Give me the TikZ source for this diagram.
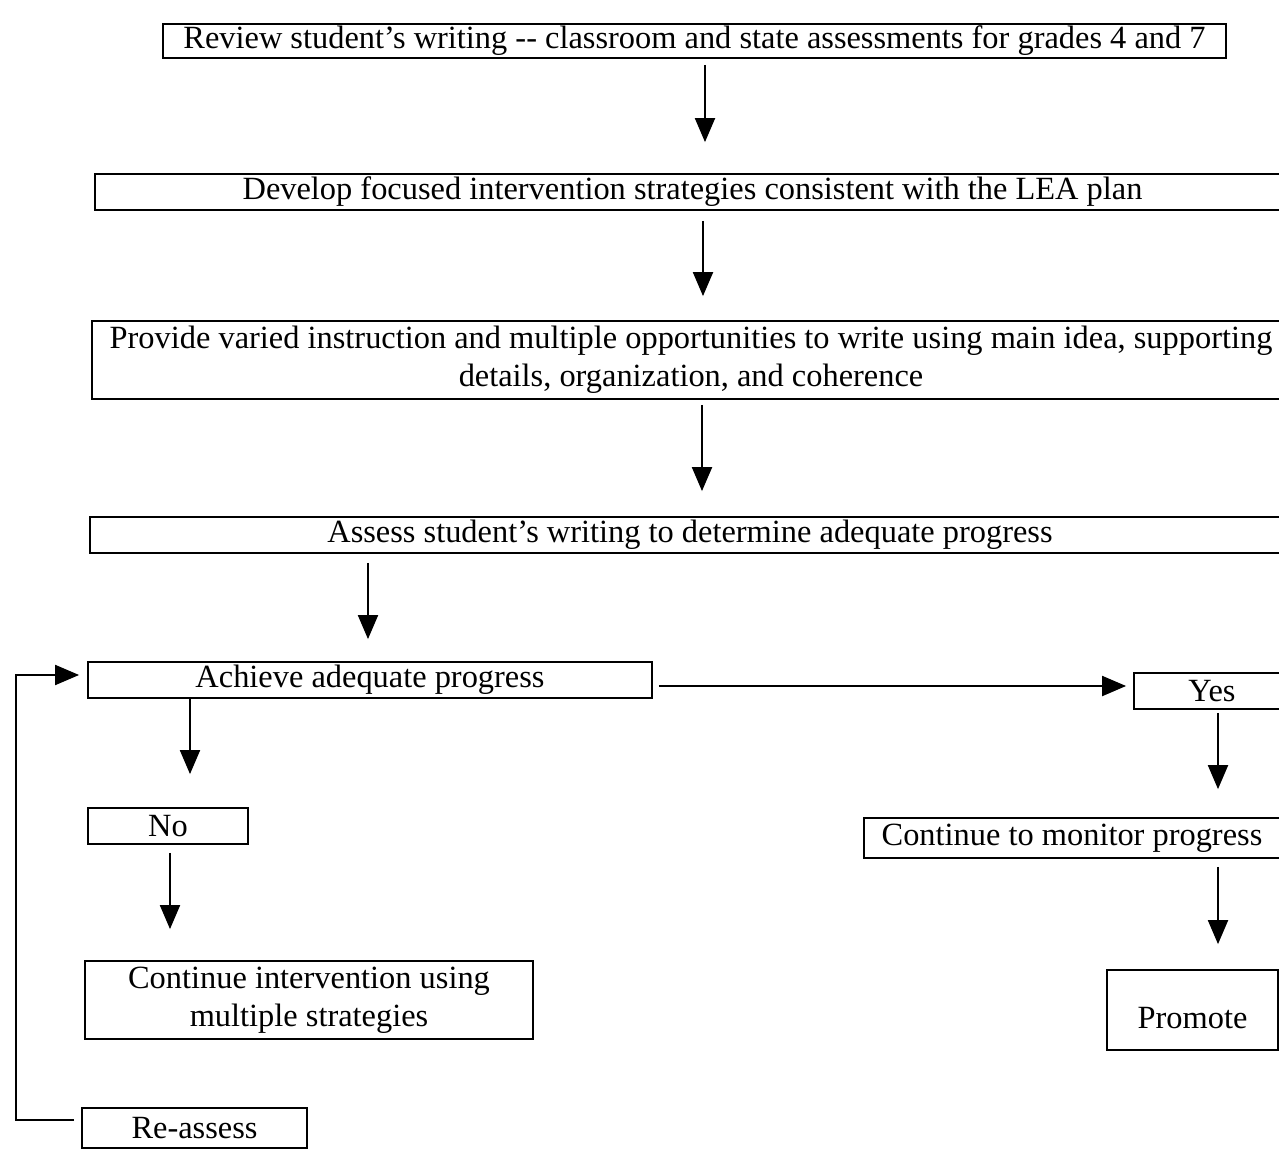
\documentclass[tikz,border=0pt]{standalone}
\usepackage{fontspec}
\setmainfont{Liberation Serif}
\usetikzlibrary{arrows.meta}
\begin{document}
\begin{tikzpicture}[x=1pt,y=-1pt,
  box/.style={draw, line width=1.8pt, inner sep=0pt, align=center,
    font=\fontsize{32.4}{38}\selectfont},
  arr/.style={line width=2pt, -{Triangle[length=24pt,width=20pt]}}]
\useasboundingbox[fill=white] (0,0) rectangle (1279,1148);
\node[box, minimum width=1063pt, minimum height=34pt] (review) at (694.5,41) {Review student's writing -{}- classroom and state assessments for grades 4 and 7};
\node[box, minimum width=1195pt, minimum height=36pt] (develop) at (692.5,192) {Develop focused intervention strategies consistent with the LEA plan};
\node[box, minimum width=1198pt, minimum height=78pt] (provide) at (691,360) {Provide varied instruction and multiple opportunities to write using main idea, supporting\\details, organization, and coherence};
\node[box, minimum width=1200pt, minimum height=36pt] (assess) at (690,535) {Assess student's writing to determine adequate progress};
\node[box, minimum width=564pt, minimum height=36pt] (achieve) at (370,680) {Achieve adequate progress};
\node[box, minimum width=156pt, minimum height=36pt] (yes) at (1212,691) {Yes};
\node[box, minimum width=416pt, minimum height=40pt] (monitor) at (1072,838) {Continue to monitor progress};
\node[box, minimum width=171pt, minimum height=80pt] (promote) at (1192.5,1010) {\mbox{}\\Promote};
\node[box, minimum width=160pt, minimum height=36pt] (no) at (168,826) {No};
\node[box, minimum width=448pt, minimum height=78pt] (interv) at (309,1000) {Continue intervention using\\multiple strategies};
\node[box, minimum width=225pt, minimum height=40pt] (reassess) at (194.5,1128) {Re-assess};
\coordinate (loopl) at (16,1120);
\draw[arr, shorten <=6pt, shorten >=31pt] ([xshift=10.5pt]review.south) -- ([xshift=12.5pt]develop.north);
\draw[arr, shorten <=10pt, shorten >=24pt] ([xshift=10.5pt]develop.south) -- ([xshift=12pt]provide.north);
\draw[arr, shorten <=5pt, shorten >=25pt] ([xshift=11pt]provide.south) -- ([xshift=12pt]assess.north);
\draw[arr, shorten <=9pt, shorten >=22pt] ([xshift=-322pt]assess.south) -- ([xshift=-2pt]achieve.north);
\draw[arr, shorten <=6pt, shorten >=7pt] ([yshift=-6pt]achieve.east) -- ([yshift=5pt]yes.west);
\draw[arr, shorten <=3pt, shorten >=28pt] ([xshift=6pt]yes.south) -- ([xshift=146pt]monitor.north);
\draw[arr, shorten <=8pt, shorten >=25pt] ([xshift=146pt]monitor.south) -- ([xshift=25.5pt]promote.north);
\draw[arr, shorten <=0pt, shorten >=33pt] ([xshift=-180pt]achieve.south) -- ([xshift=22pt]no.north);
\draw[arr, shorten <=8pt, shorten >=31pt] ([xshift=2pt]no.south) -- ([xshift=-139pt]interv.north);
\draw[arr, shorten <=7pt, shorten >=8pt] ([yshift=8pt]reassess.west) -- (loopl) |- ([yshift=5pt]achieve.west);
\end{tikzpicture}
\end{document}
